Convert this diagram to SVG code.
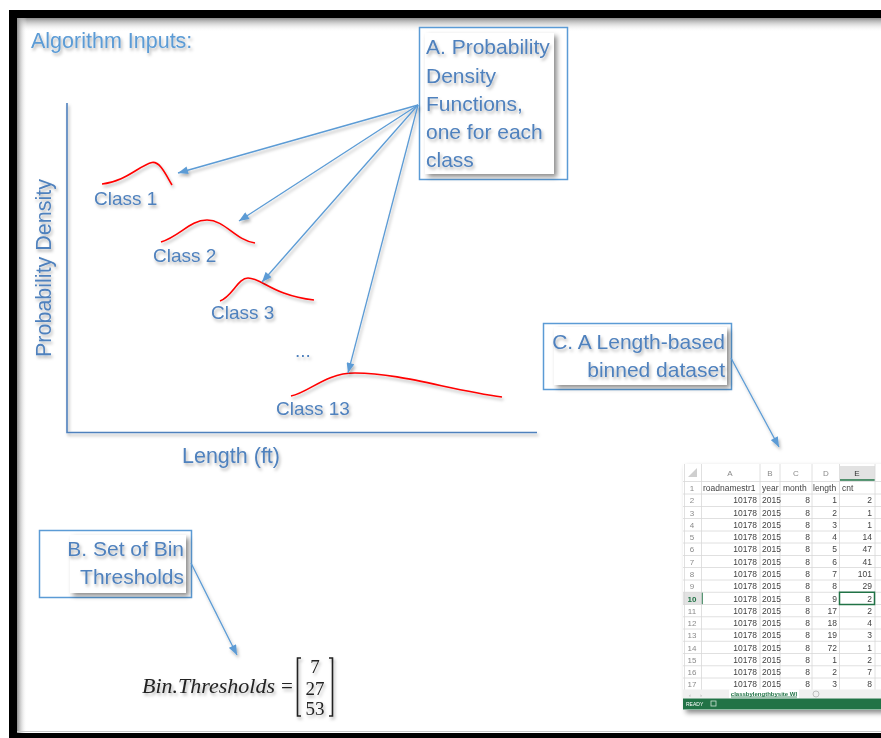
<svg xmlns="http://www.w3.org/2000/svg" width="881" height="738" viewBox="0 0 881 738">
<style>
.lbl{font-family:"Liberation Sans",Arial,sans-serif;fill:#4f81bd}
.box{fill:#fff;stroke:#5b9bd5;stroke-width:1.5}
.inner{fill:#fff}
.btxt{font-family:"Liberation Sans",Arial,sans-serif;font-size:21px;fill:#4f81bd}
.ax{stroke:#4f81bd;stroke-width:1.6;fill:none}
.conn{stroke:#5b9bd5;stroke-width:1.3;fill:none;marker-end:url(#ah)}
.pdf{stroke:#ff0000;stroke-width:1.6;fill:none}
.grid{stroke:#d8d8d8;stroke-width:0.8}
.cell{font-family:"Liberation Sans",Arial,sans-serif;font-size:8.5px;fill:#444}
.rn{font-family:"Liberation Sans",Arial,sans-serif;font-size:8px;fill:#8a8a8a;text-anchor:middle}
.r{text-anchor:end}
.math{font-family:"Liberation Serif","Times New Roman",serif;fill:#222}
</style>
<defs>
<filter id="ts" x="-20%" y="-30%" width="140%" height="170%"><feDropShadow dx="1.5" dy="2.5" stdDeviation="1.5" flood-color="#000" flood-opacity="0.3"/></filter>
<filter id="bs" x="-10%" y="-10%" width="130%" height="130%"><feDropShadow dx="3" dy="3" stdDeviation="2.5" flood-color="#000" flood-opacity="0.45"/></filter>
<marker id="ah" viewBox="0 0 10 8" refX="10" refY="4" markerWidth="11" markerHeight="8" markerUnits="userSpaceOnUse" orient="auto"><path d="M0,0 L10,4 L0,8 z" fill="#5b9bd5"/></marker>
<linearGradient id="gt" x1="0" y1="0" x2="0" y2="1"><stop offset="0" stop-color="#8c8c8c"/><stop offset="1" stop-color="#fff" stop-opacity="0"/></linearGradient>
<linearGradient id="gl" x1="0" y1="0" x2="1" y2="0"><stop offset="0" stop-color="#8c8c8c"/><stop offset="1" stop-color="#fff" stop-opacity="0"/></linearGradient>
</defs>

<g id="frame">
<rect x="0" y="0" width="881" height="738" fill="#fff"/>
<rect x="9" y="10" width="880" height="740" fill="#000"/>
<rect x="17" y="18" width="870" height="715" fill="#fff"/>
<rect x="17" y="18" width="870" height="14" fill="url(#gt)"/>
<rect x="17" y="18" width="10" height="715" fill="url(#gl)"/>
<line x1="17" y1="731.5" x2="881" y2="731.5" stroke="#c8c8c8" stroke-width="1"/>
</g>

<g id="title" filter="url(#ts)">
<text x="31" y="48" font-family="Liberation Sans,Arial,sans-serif" font-size="21.5" fill="#5b9bd5">Algorithm Inputs:</text>
</g>

<g id="chart" filter="url(#ts)">
<path class="ax" d="M67,103 L67,432.5 L537,432.5"/>
<text class="lbl" font-size="21.5" transform="translate(51,268) rotate(-90)" text-anchor="middle">Probability Density</text>
<text class="lbl" font-size="21.5" x="182" y="463">Length (ft)</text>
</g>

<g id="class1" filter="url(#ts)">
<path class="pdf" d="M102,184 C125,182 140,165 152,162.5 C160,161 166,175 172,185"/>
<text class="lbl" font-size="19" x="94" y="205">Class 1</text>
</g>
<g id="class2" filter="url(#ts)">
<path class="pdf" d="M161,242 C180,236 190,220 207,220 C225,220 235,240 255,243"/>
<text class="lbl" font-size="19" x="153" y="262">Class 2</text>
</g>
<g id="class3" filter="url(#ts)">
<path class="pdf" d="M220,301 C232,297 238,278 248,278 C262,278 272,295 314,300"/>
<text class="lbl" font-size="19" x="211" y="319">Class 3</text>
</g>
<g id="ellipsis" filter="url(#ts)">
<text class="lbl" font-size="19" x="295" y="357">...</text>
</g>
<g id="class13" filter="url(#ts)">
<path class="pdf" d="M291,396 C310,392 325,373 355,373 C400,373 450,390 502,397"/>
<text class="lbl" font-size="19" x="276" y="415">Class 13</text>
</g>

<g id="boxA">
<rect class="box" x="419.5" y="27.5" width="148" height="152"/>
<rect class="inner" x="425" y="33" width="129" height="141" filter="url(#bs)"/>
<g filter="url(#ts)">
<text class="btxt" x="426" y="54">A. Probability</text>
<text class="btxt" x="426" y="83">Density</text>
<text class="btxt" x="426" y="111">Functions,</text>
<text class="btxt" x="426" y="139">one for each</text>
<text class="btxt" x="426" y="167">class</text>
</g>
</g>

<g id="boxC">
<rect class="box" x="543.5" y="323.5" width="188" height="66"/>
<rect class="inner" x="554" y="327" width="173" height="58" filter="url(#bs)"/>
<g filter="url(#ts)">
<text class="btxt" x="725" y="349" text-anchor="end">C. A Length-based</text>
<text class="btxt" x="725" y="377" text-anchor="end">binned dataset</text>
</g>
</g>

<g id="boxB">
<rect class="box" x="39.5" y="530.5" width="152" height="67"/>
<rect class="inner" x="70" y="535" width="116" height="58" filter="url(#bs)"/>
<g filter="url(#ts)">
<text class="btxt" x="184" y="556" text-anchor="end">B. Set of Bin</text>
<text class="btxt" x="184" y="584" text-anchor="end">Thresholds</text>
</g>
</g>

<g id="connectors" filter="url(#ts)">
<path class="conn" d="M418,105 L178,173"/>
<path class="conn" d="M418,105 L239,221"/>
<path class="conn" d="M418,105 L262,282"/>
<path class="conn" d="M418,105 L348,373"/>
<path class="conn" d="M731,358 L779,447"/>
<path class="conn" d="M191,563 L237,655"/>
</g>

<g id="formula" filter="url(#ts)">
<text class="math" font-size="20.5" font-style="italic" x="142" y="693" textLength="133" lengthAdjust="spacingAndGlyphs">Bin.Thresholds</text>
<text class="math" font-size="21" x="281" y="693">=</text>
<path d="M301,658 L297.5,658 L297.5,716 L301,716" stroke="#222" stroke-width="1.6" fill="none"/>
<path d="M329,658 L332.5,658 L332.5,716 L329,716" stroke="#222" stroke-width="1.6" fill="none"/>
<text class="math" font-size="19" x="315" y="673" text-anchor="middle">7</text>
<text class="math" font-size="19" x="315" y="695" text-anchor="middle">27</text>
<text class="math" font-size="19" x="315" y="715" text-anchor="middle">53</text>
</g>

<g id="spreadsheet">
<rect x="683" y="464" width="200" height="246" fill="#fff" filter="url(#bs)"/>
<rect x="840" y="466" width="35" height="14" fill="#e2e2e2"/>
<line x1="840" y1="480" x2="875" y2="480" stroke="#217346" stroke-width="1.5"/>
<rect x="683" y="592.25" width="19" height="12.25" fill="#e2e2e2"/>
<line x1="702" y1="592.25" x2="702" y2="604.5" stroke="#217346" stroke-width="1.5"/>
<path d="M697,468 L697,477 L688,477 z" fill="#cfcfcf"/>
<g class="grid">
<line x1="683" y1="481.5" x2="881" y2="481.5"/>
<line x1="683" y1="494" x2="881" y2="494"/>
<line x1="683" y1="506.5" x2="881" y2="506.5"/>
<line x1="683" y1="518.5" x2="881" y2="518.5"/>
<line x1="683" y1="531" x2="881" y2="531"/>
<line x1="683" y1="543" x2="881" y2="543"/>
<line x1="683" y1="555.5" x2="881" y2="555.5"/>
<line x1="683" y1="567.5" x2="881" y2="567.5"/>
<line x1="683" y1="580" x2="881" y2="580"/>
<line x1="683" y1="592.25" x2="881" y2="592.25"/>
<line x1="683" y1="604.5" x2="881" y2="604.5"/>
<line x1="683" y1="616.75" x2="881" y2="616.75"/>
<line x1="683" y1="629" x2="881" y2="629"/>
<line x1="683" y1="641.25" x2="881" y2="641.25"/>
<line x1="683" y1="653.5" x2="881" y2="653.5"/>
<line x1="683" y1="665.75" x2="881" y2="665.75"/>
<line x1="683" y1="678" x2="881" y2="678"/>
<line x1="684.5" y1="464" x2="684.5" y2="690"/>
<line x1="701.5" y1="464" x2="701.5" y2="690"/>
<line x1="760" y1="464" x2="760" y2="690"/>
<line x1="780" y1="464" x2="780" y2="690"/>
<line x1="812" y1="464" x2="812" y2="690"/>
<line x1="839.5" y1="464" x2="839.5" y2="690"/>
<line x1="875" y1="464" x2="875" y2="690"/>
</g>
<rect x="839.5" y="592.25" width="35" height="12.25" fill="none" stroke="#217346" stroke-width="1.5"/>
<g class="rn">
<text x="730" y="476">A</text><text x="770" y="476">B</text><text x="796" y="476">C</text><text x="826" y="476">D</text><text x="857" y="476" fill="#333">E</text>
<text x="692" y="491">1</text><text x="692" y="503">2</text><text x="692" y="515.5">3</text><text x="692" y="527.5">4</text><text x="692" y="540">5</text><text x="692" y="552">6</text><text x="692" y="564.5">7</text><text x="692" y="576.5">8</text><text x="692" y="589">9</text>
<text x="692" y="601.5" fill="#217346" font-weight="bold">10</text>
<text x="692" y="613.5">11</text><text x="692" y="626">12</text><text x="692" y="638">13</text><text x="692" y="650.5">14</text><text x="692" y="662.5">15</text><text x="692" y="675">16</text><text x="692" y="687">17</text>
</g>
<g class="cell">
<text x="703" y="491">roadnamestr1</text><text x="762" y="491">year</text><text x="783" y="491">month</text><text x="813" y="491">length</text><text x="842" y="491">cnt</text>
<text class="r" x="757" y="503">10178</text><text x="762" y="503">2015</text><text class="r" x="810" y="503">8</text><text class="r" x="837" y="503">1</text><text class="r" x="872" y="503">2</text>
<text class="r" x="757" y="515.5">10178</text><text x="762" y="515.5">2015</text><text class="r" x="810" y="515.5">8</text><text class="r" x="837" y="515.5">2</text><text class="r" x="872" y="515.5">1</text>
<text class="r" x="757" y="527.5">10178</text><text x="762" y="527.5">2015</text><text class="r" x="810" y="527.5">8</text><text class="r" x="837" y="527.5">3</text><text class="r" x="872" y="527.5">1</text>
<text class="r" x="757" y="540">10178</text><text x="762" y="540">2015</text><text class="r" x="810" y="540">8</text><text class="r" x="837" y="540">4</text><text class="r" x="872" y="540">14</text>
<text class="r" x="757" y="552">10178</text><text x="762" y="552">2015</text><text class="r" x="810" y="552">8</text><text class="r" x="837" y="552">5</text><text class="r" x="872" y="552">47</text>
<text class="r" x="757" y="564.5">10178</text><text x="762" y="564.5">2015</text><text class="r" x="810" y="564.5">8</text><text class="r" x="837" y="564.5">6</text><text class="r" x="872" y="564.5">41</text>
<text class="r" x="757" y="576.5">10178</text><text x="762" y="576.5">2015</text><text class="r" x="810" y="576.5">8</text><text class="r" x="837" y="576.5">7</text><text class="r" x="872" y="576.5">101</text>
<text class="r" x="757" y="589">10178</text><text x="762" y="589">2015</text><text class="r" x="810" y="589">8</text><text class="r" x="837" y="589">8</text><text class="r" x="872" y="589">29</text>
<text class="r" x="757" y="601.5">10178</text><text x="762" y="601.5">2015</text><text class="r" x="810" y="601.5">8</text><text class="r" x="837" y="601.5">9</text><text class="r" x="872" y="601.5">2</text>
<text class="r" x="757" y="613.5">10178</text><text x="762" y="613.5">2015</text><text class="r" x="810" y="613.5">8</text><text class="r" x="837" y="613.5">17</text><text class="r" x="872" y="613.5">2</text>
<text class="r" x="757" y="626">10178</text><text x="762" y="626">2015</text><text class="r" x="810" y="626">8</text><text class="r" x="837" y="626">18</text><text class="r" x="872" y="626">4</text>
<text class="r" x="757" y="638">10178</text><text x="762" y="638">2015</text><text class="r" x="810" y="638">8</text><text class="r" x="837" y="638">19</text><text class="r" x="872" y="638">3</text>
<text class="r" x="757" y="650.5">10178</text><text x="762" y="650.5">2015</text><text class="r" x="810" y="650.5">8</text><text class="r" x="837" y="650.5">72</text><text class="r" x="872" y="650.5">1</text>
<text class="r" x="757" y="662.5">10178</text><text x="762" y="662.5">2015</text><text class="r" x="810" y="662.5">8</text><text class="r" x="837" y="662.5">1</text><text class="r" x="872" y="662.5">2</text>
<text class="r" x="757" y="675">10178</text><text x="762" y="675">2015</text><text class="r" x="810" y="675">8</text><text class="r" x="837" y="675">2</text><text class="r" x="872" y="675">7</text>
<text class="r" x="757" y="687">10178</text><text x="762" y="687">2015</text><text class="r" x="810" y="687">8</text><text class="r" x="837" y="687">3</text><text class="r" x="872" y="687">8</text>
</g>
<rect x="683" y="689.5" width="198" height="9" fill="#f0f0f0"/>
<rect x="729" y="689.5" width="70" height="9" fill="#fff"/>
<line x1="731" y1="697" x2="797" y2="697" stroke="#217346" stroke-width="0.8"/>
<text x="764" y="696" font-family="Liberation Sans,Arial,sans-serif" font-size="6" font-weight="bold" fill="#217346" text-anchor="middle">classbylengthbysite WI</text>
<text x="689" y="696.5" font-family="Liberation Sans,Arial,sans-serif" font-size="6" fill="#aaa">‹</text>
<text x="700" y="696.5" font-family="Liberation Sans,Arial,sans-serif" font-size="6" fill="#aaa">›</text>
<circle cx="816" cy="694" r="3" fill="none" stroke="#aaa" stroke-width="0.7"/>
<rect x="683" y="698.5" width="198" height="11" fill="#217346"/>
<text x="686" y="706" font-family="Liberation Sans,Arial,sans-serif" font-size="5" fill="#fff">READY</text>
<rect x="711" y="701" width="5" height="5" fill="none" stroke="#cfe3d6" stroke-width="0.8"/>
</g>
</svg>
